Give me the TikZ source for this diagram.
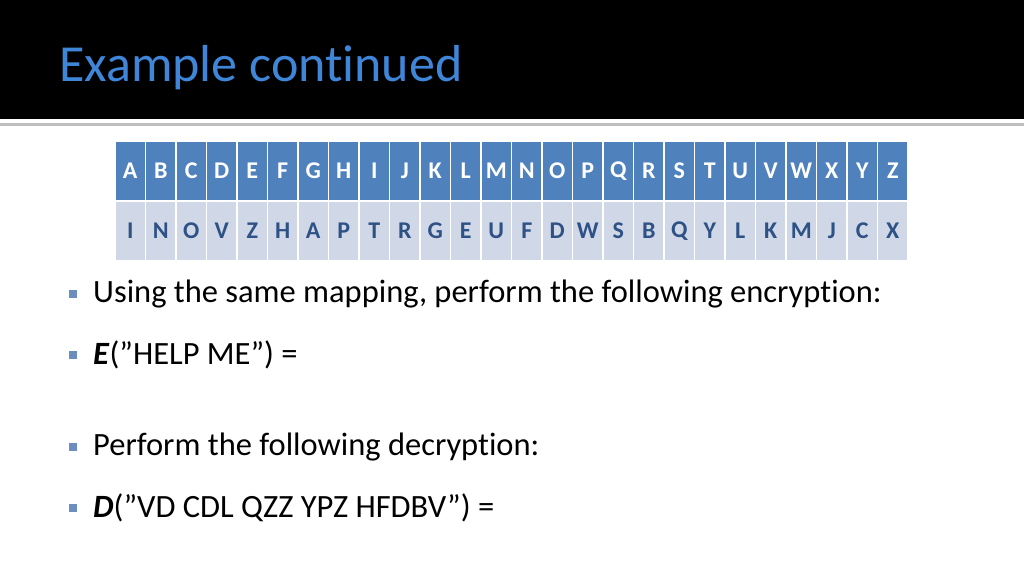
\documentclass[tikz,border=0pt]{standalone}
\usepackage{fontspec}
\setmainfont{Carlito}[Ligatures={NoCommon}]
\newcommand{\dq}{\char"22\relax}
\begin{document}
\begin{tikzpicture}[x=1pt,y=-1pt,
  hdr/.style={fill=hdrblue,draw=white,line width=1.2pt,minimum width=30.5pt,minimum height=60pt,inner sep=0,text=white,font=\fontsize{24}{24}\selectfont\bfseries},
  sub/.style={fill=subblue,draw=white,line width=1.2pt,minimum width=30.5pt,minimum height=60pt,inner sep=0,text=subtext,font=\fontsize{24}{24}\selectfont\bfseries},
  bul/.style={fill=bulc,minimum size=7.5pt,inner sep=0},
  txt/.style={anchor=west,inner sep=0,font=\fontsize{32.5}{32.5}\selectfont}]
\definecolor{hdrblue}{HTML}{4F81BD}
\definecolor{subblue}{HTML}{D0D8E8}
\definecolor{subtext}{HTML}{2E5285}
\definecolor{titleblue}{HTML}{3F86D8}
\definecolor{bulc}{HTML}{6C8EBF}
\useasboundingbox (0,0) rectangle (1024,576);
\fill[black] (0,0) rectangle (1024,119);
\fill[gray!50] (0,123) rectangle (1024,126);
\node[anchor=base west,inner sep=0,text=titleblue,font=\fontsize{52}{52}\selectfont] (title) at (59,81) {Example continued};
\foreach \a/\b [count=\i from 0] in {A/I,B/N,C/O,D/V,E/Z,F/H,G/A,H/P,I/T,J/R,K/G,L/E,M/U,N/F,O/D,P/W,Q/S,R/B,S/Q,T/Y,U/L,V/K,W/M,X/J,Y/C,Z/X}{
  \node[hdr] (h\i) at (130.25+30.5*\i,171) {\a};
  \node[sub] (s\i) at (130.25+30.5*\i,231) {\b};
}
\node[bul] (b1) at (73,294) {}; \node[txt] (t1) at (93,294) {Using the same mapping, perform the following encryption:};
\node[bul] (b2) at (73,355) {}; \node[txt] (t2) at (93,355) {\textbf{\textit{E}}(\dq HELP ME\dq) =};
\node[bul] (b3) at (73,447) {}; \node[txt] (t3) at (93,447) {Perform the following decryption:};
\node[bul] (b4) at (73,508) {}; \node[txt] (t4) at (93,508) {\textbf{\textit{D}}(\dq VD CDL QZZ YPZ HFDBV\dq) =};
\end{tikzpicture}
\end{document}
